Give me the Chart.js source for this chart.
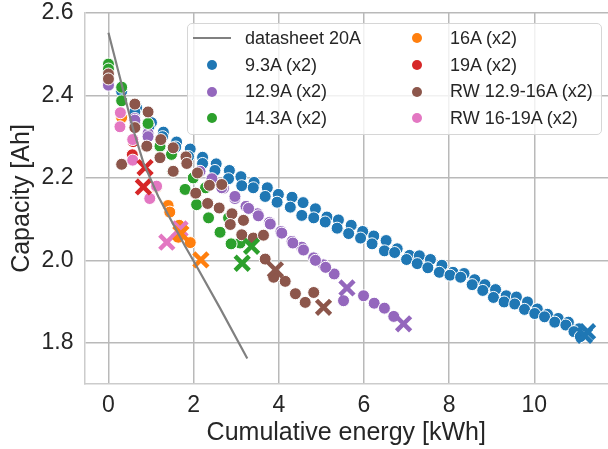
<!DOCTYPE html>
<html>
<head>
<meta charset="utf-8">
<script src="https://cdn.jsdelivr.net/npm/chart.js@4.4.1/dist/chart.umd.min.js"></script>
<style>
  html, body { margin: 0; padding: 0; background: #fff; overflow: hidden; }
  #wrap { position: relative; width: 608px; height: 449px; }
  #legend {
    position: absolute; left: 187px; top: 23px; width: 415px; height: 112px;
    box-sizing: border-box; background: rgba(255,255,255,0.8);
    border: 1px solid #d6d6d6; border-radius: 5px;
    display: grid; grid-auto-flow: column;
    grid-template-rows: repeat(4, 26.7px); grid-template-columns: 205px 1fr;
    padding: 1px 0 0 5px;
    font: 18px "Liberation Sans", Arial, sans-serif; color: #262626;
  }
  .item { display: flex; align-items: center; white-space: nowrap; }
  .mark { width: 38px; height: 12px; display: flex; align-items: center; justify-content: center; margin-right: 14px; }
  .dot { width: 10px; height: 10px; border-radius: 50%; }
  .line { width: 38px; height: 2px; background: #808080; }
</style>
</head>
<body>
<div id="wrap">
  <canvas id="chart" width="608" height="449"></canvas>
  <div id="legend"></div>
</div>
<script>
// axis ticks
const xTicks = [0, 2, 4, 6, 8, 10];
const yTicks = [1.8, 2.0, 2.2, 2.4, 2.6];

// datasheet 20A curve
const eDs = [0, 0.58, 0.82, 1.17, 1.80, 2.03, 2.62, 3.26];
const cDs = [2.552, 2.318, 2.237, 2.155, 2.034, 1.993, 1.884, 1.762];

// 9.3A (x2)
const e93 = [0, 0.31, 0.66, 1.01, 1.29, 1.60, 1.92, 2.21, 2.53, 2.84, 3.11, 3.42, 3.73, 3.99, 4.31, 4.57, 4.86, 5.13, 5.40, 5.70,
  5.97, 6.23, 6.52, 6.78, 7.07, 7.30, 7.56, 7.83, 8.09, 8.35, 8.60, 8.84, 9.09, 9.34, 9.58, 9.84, 10.07, 10.31, 10.56, 10.80, 11.05,
  0, 0.31, 0.62, 0.95, 1.27, 1.58, 1.88, 2.21, 2.50, 2.82, 3.13, 3.40, 3.68, 3.96, 4.27, 4.54, 4.82, 5.09, 5.37, 5.64,
  5.92, 6.19, 6.48, 6.72, 7.00, 7.25, 7.50, 7.77, 8.02, 8.27, 8.54, 8.79, 9.04, 9.29, 9.54, 9.77, 10.01, 10.24, 10.48, 10.74, 10.93, 11.08];
const c93 = [2.44, 2.42, 2.37, 2.334, 2.311, 2.287, 2.270, 2.250, 2.234, 2.218, 2.203, 2.189, 2.176, 2.160, 2.153, 2.140, 2.125, 2.105, 2.098, 2.085,
  2.070, 2.059, 2.048, 2.028, 2.012, 2.011, 2.002, 1.988, 1.971, 1.968, 1.953, 1.941, 1.929, 1.914, 1.911, 1.899, 1.882, 1.869, 1.859, 1.850, 1.834,
  2.44, 2.41, 2.36, 2.325, 2.30, 2.275, 2.252, 2.235, 2.218, 2.198, 2.181, 2.176, 2.155, 2.141, 2.129, 2.109, 2.103, 2.093, 2.078, 2.065,
  2.054, 2.040, 2.023, 2.019, 2.002, 1.992, 1.982, 1.971, 1.964, 1.959, 1.941, 1.927, 1.910, 1.899, 1.894, 1.881, 1.871, 1.863, 1.850, 1.843, 1.827, 1.815];
const e93End = [11.25, 11.18];
const c93End = [1.827, 1.818];

// 12.9A (x2)
const e129 = [0, 0.62, 0.93, 2.15, 2.43, 2.70, 2.97, 3.23, 3.50, 3.78, 4.05, 4.31, 4.54, 4.82, 5.05, 5.30,
  0, 0.62, 0.93, 2.43, 2.66, 2.97, 3.29, 3.52, 3.80, 4.07, 4.33, 4.58, 4.86, 5.10, 5.52, 5.99, 6.24, 6.48, 6.70];
const c129 = [2.431, 2.344, 2.308, 2.216, 2.192, 2.175, 2.150, 2.131, 2.113, 2.092, 2.070, 2.046, 2.032, 2.006, 1.989, 1.967,
  2.425, 2.340, 2.300, 2.198, 2.176, 2.155, 2.126, 2.108, 2.088, 2.066, 2.042, 2.025, 2.000, 1.983, 1.902, 1.914, 1.896, 1.884, 1.864];
const e129End = [5.60, 6.93];
const c129End = [1.933, 1.846];

// 14.3A (x2)
const e143 = [0, 0.31, 0.93, 1.21, 1.48, 1.99, 2.28, 2.82, 3.09,
  0, 0.31, 1.51, 1.80, 2.07, 2.35, 2.62, 2.88];
const c143 = [2.476, 2.420, 2.332, 2.277, 2.257, 2.200, 2.176, 2.103, 2.042,
  2.464, 2.387, 2.216, 2.172, 2.135, 2.103, 2.068, 2.040];
const e143End = [3.36, 3.14];
const c143End = [2.034, 1.993];

// 16A (x2)
const e16 = [0.31, 1.13, 1.40, 1.44, 1.66, 1.64, 1.92];
const c16 = [2.346, 2.178, 2.133, 2.117, 2.085, 2.056, 2.043];
const e16End = [2.17, 1.70];
const c16End = [2.001, 2.065];

// 19A (x2)
const e19 = [0.58, 0.56];
const c19 = [2.288, 2.256];
const e19End = [0.86, 0.82];
const c19End = [2.225, 2.178];

// RW 12.9-16A (x2)
const eRwA = [0, 0, 0.31, 0.62, 0.62, 0.93, 0.90, 1.23, 1.21, 1.52, 1.52, 1.82, 1.84, 2.09, 2.05, 2.37, 2.33, 2.66, 2.60,
  2.90, 2.86, 3.17, 3.13, 3.40, 3.64, 3.68, 3.88, 4.15, 4.39, 4.62, 4.82];
const cRwA = [2.452, 2.440, 2.233, 2.379, 2.322, 2.360, 2.277, 2.293, 2.249, 2.273, 2.216, 2.251, 2.235, 2.212, 2.163, 2.182, 2.138, 2.184, 2.127,
  2.113, 2.087, 2.097, 2.062, 2.054, 2.061, 2.003, 1.959, 1.949, 1.919, 1.898, 1.922];
const eRwAEnd = [3.92, 5.05];
const cRwAEnd = [1.977, 1.886];

// RW 16-19A (x2)
const eRwB = [0.28, 0.27, 0.57, 0.57, 0.97, 1.13];
const cRwB = [2.358, 2.324, 2.293, 2.243, 2.150, 2.180];
const eRwBEnd = [1.68, 1.37];
const cRwBEnd = [2.076, 2.044];

const series = [
  { label: '9.3A (x2)', color: '#1f77b4', e: e93, c: c93, eEnd: e93End, cEnd: c93End },
  { label: '12.9A (x2)', color: '#9467bd', e: e129, c: c129, eEnd: e129End, cEnd: c129End },
  { label: '14.3A (x2)', color: '#2ca02c', e: e143, c: c143, eEnd: e143End, cEnd: c143End },
  { label: '16A (x2)', color: '#ff7f0e', e: e16, c: c16, eEnd: e16End, cEnd: c16End },
  { label: '19A (x2)', color: '#d62728', e: e19, c: c19, eEnd: e19End, cEnd: c19End },
  { label: 'RW 12.9-16A (x2)', color: '#8c564b', e: eRwA, c: cRwA, eEnd: eRwAEnd, cEnd: cRwAEnd },
  { label: 'RW 16-19A (x2)', color: '#e377c2', e: eRwB, c: cRwB, eEnd: eRwBEnd, cEnd: cRwBEnd }
];

const font = '"Liberation Sans", Arial, sans-serif';
const textColor = '#262626';
const gridColor = '#b9b9b9';
const spineColor = '#cccccc';

const pts = (xs, ys) => xs.map((x, i) => ({ x: x, y: ys[i] }));

const datasets = [{
  label: 'datasheet 20A',
  data: pts(eDs, cDs),
  showLine: true,
  borderColor: '#808080',
  borderWidth: 2.2,
  pointRadius: 0,
  order: -1
}];

series.forEach((s, k) => {
  datasets.push({
    label: s.label,
    data: pts(s.e, s.c),
    pointStyle: 'circle',
    pointRadius: 6,
    pointBorderWidth: 1,
    pointBorderColor: '#ffffff',
    pointBackgroundColor: s.color,
    order: 10 - k
  });
});
series.forEach(s => {
  datasets.push({
    label: s.label + ' end',
    data: pts(s.eEnd, s.cEnd),
    pointStyle: 'crossRot',
    pointRadius: 10,
    pointBorderWidth: 4.5,
    pointBorderColor: s.color,
    pointBackgroundColor: s.color,
    order: 0
  });
});

new Chart(document.getElementById('chart'), {
  type: 'scatter',
  data: { datasets: datasets },
  options: {
    responsive: false,
    animation: false,
    devicePixelRatio: 1,
    events: [],
    layout: { autoPadding: false, padding: { top: 13, right: 0, bottom: 0, left: 0 } },
    plugins: { legend: { display: false }, tooltip: { enabled: false } },
    scales: {
      x: {
        type: 'linear', min: -0.5625, max: 11.73,
        afterBuildTicks: s => { s.ticks = xTicks.map(v => ({ value: v })); },
        afterFit: s => { s.height = 65; s.paddingLeft = 0; s.paddingRight = 0; },
        grid: { color: gridColor, lineWidth: 1.5, drawTicks: false },
        border: { display: true, color: spineColor, width: 1.5 },
        ticks: { font: { family: font, size: 23, lineHeight: 1.1 }, color: textColor, padding: 9, callback: v => String(v) },
        title: { display: true, text: 'Cumulative energy [kWh]', color: textColor,
          font: { family: font, size: 25, lineHeight: 1.2 }, padding: { top: 0, bottom: 1 } }
      },
      y: {
        type: 'linear', min: 1.7, max: 2.6,
        afterBuildTicks: s => { s.ticks = yTicks.map(v => ({ value: v })); },
        afterFit: s => { s.width = 84.5; s.paddingTop = 0; s.paddingBottom = 0; },
        grid: { color: gridColor, lineWidth: 1.5, drawTicks: false },
        border: { display: true, color: spineColor, width: 1.5 },
        ticks: { font: { family: font, size: 23, lineHeight: 1.1 }, color: textColor, padding: 11, callback: v => v.toFixed(1) },
        title: { display: true, text: 'Capacity [Ah]', color: textColor,
          font: { family: font, size: 25, lineHeight: 1.2 }, padding: { top: 7, bottom: 0 } }
      }
    }
  }
});

// legend, two columns like the original
const legend = document.getElementById('legend');
const entries = [{ label: 'datasheet 20A', line: true }].concat(series);
entries.forEach(s => {
  const item = document.createElement('div');
  item.className = 'item';
  const mark = document.createElement('span');
  mark.className = 'mark';
  const sym = document.createElement('span');
  if (s.line) {
    sym.className = 'line';
  } else {
    sym.className = 'dot';
    sym.style.background = s.color;
  }
  mark.appendChild(sym);
  const txt = document.createElement('span');
  txt.textContent = s.label;
  item.appendChild(mark);
  item.appendChild(txt);
  legend.appendChild(item);
});
</script>
</body>
</html>
